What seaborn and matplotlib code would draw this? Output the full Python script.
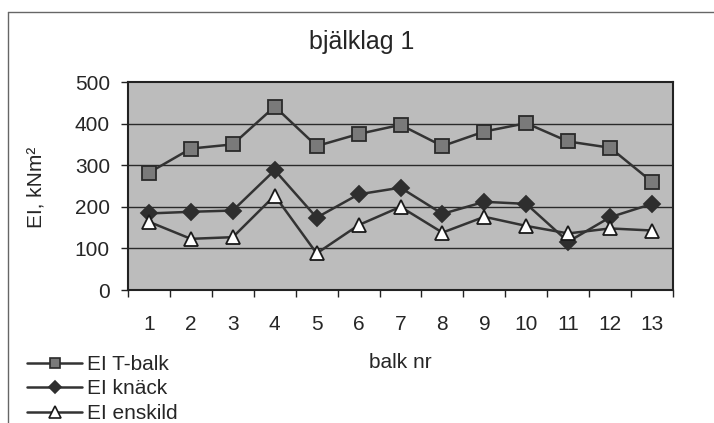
import matplotlib
matplotlib.use("Agg")
import matplotlib.pyplot as plt
import seaborn as sns
import pandas as pd
import numpy as np
from matplotlib.lines import Line2D

balk = ["1", "2", "3", "4", "5", "6", "7", "8", "9", "10", "11", "12", "13"]
t_balk = [282, 340, 350, 441, 346, 375, 397, 346, 381, 401, 357, 342, 260]
knack = [184, 188, 191, 288, 174, 230, 246, 183, 212, 207, 116, 175, 207]
enskild = [164, 123, 127, 227, 88, 156, 200, 138, 176, 154, 136, 148, 143]
series_names = ["EI T-balk", "EI knäck", "EI enskild"]
y_ticks = [0, 100, 200, 300, 400, 500]

sns.set_theme(style="white")
plt.rcParams['font.family'] = ['Liberation Sans', 'DejaVu Sans']

df = pd.DataFrame({
    "pos": list(range(len(balk))) * 3,
    "value": t_balk + knack + enskild,
    "series": [series_names[0]] * 13 + [series_names[1]] * 13 + [series_names[2]] * 13,
})

fig = plt.figure(figsize=(7.14, 4.23), dpi=100)
ax = fig.add_axes([128/714, 1-290/423, 545/714, 208/423])
ax.set_facecolor("#bcbcbc")

styles = {
    series_names[0]: dict(marker="s", mfc="#7a7a7a", mec="#2a2a2a", ms=9.5),
    series_names[1]: dict(marker="D", mfc="#2e2e2e", mec="#2e2e2e", ms=8),
    series_names[2]: dict(marker="^", mfc="white", mec="#1a1a1a", ms=10),
}
handles = []
for name in series_names:
    s = styles[name]
    sns.lineplot(data=df[df.series == name], x="pos", y="value", ax=ax,
                 color="#333333", linewidth=1.8, marker=s["marker"],
                 markerfacecolor=s["mfc"], markeredgecolor=s["mec"],
                 markeredgewidth=1.3, markersize=s["ms"], legend=False)
    handles.append(Line2D([], [], color="#333333", linewidth=1.8, marker=s["marker"],
                          markerfacecolor=s["mfc"], markeredgecolor=s["mec"],
                          markeredgewidth=1.2, markersize=s["ms"] * 0.8, label=name))

ax.set_xlim(-0.5, len(balk) - 0.5)
ax.set_ylim(0, 500)
ax.set_yticks(y_ticks)
ax.set_yticklabels([str(v) for v in y_ticks], fontsize=15)
ax.set_xticks(np.arange(-0.5, len(balk), 1.0))
ax.set_xticklabels([])
ax.set_xticks(np.arange(len(balk)), minor=True)
ax.set_xticklabels(balk, minor=True, fontsize=15)
ax.tick_params(axis="x", which="major", direction="out", length=5, width=1, color="#222222", bottom=True)
ax.tick_params(axis="x", which="minor", length=0, pad=18)
ax.tick_params(axis="y", direction="out", length=5, width=1, color="#222222", pad=8, left=True)
for y in y_ticks[1:-1]:
    ax.axhline(y, color="#2a2a2a", linewidth=1.0, zorder=1)
for sp in ax.spines.values():
    sp.set_color("#222222")
    sp.set_linewidth(1.5)

ax.set_xlabel("balk nr", fontsize=15)
ax.xaxis.set_label_coords(0.5, (290-353)/208)
ax.set_ylabel("EI, kNm²", fontsize=15)
ax.yaxis.set_label_coords((45-128)/545, 0.495)

fig.text(362/714, 1-42/423, "bjälklag 1", ha="center", va="center", fontsize=18)

fig.legend(handles=handles, loc="upper left", bbox_to_anchor=(27/714, 1-355/423),
           frameon=False, fontsize=15, handlelength=2.65, handletextpad=0.25,
           labelspacing=0.26, borderaxespad=0, borderpad=0)

fig.add_artist(Line2D([8/714, 8/714], [0, 1-12/423], transform=fig.transFigure, color="#666666", linewidth=1))
fig.add_artist(Line2D([8/714, 1], [1-12/423, 1-12/423], transform=fig.transFigure, color="#666666", linewidth=1))

fig.savefig("out.png", dpi=100, facecolor="white")
